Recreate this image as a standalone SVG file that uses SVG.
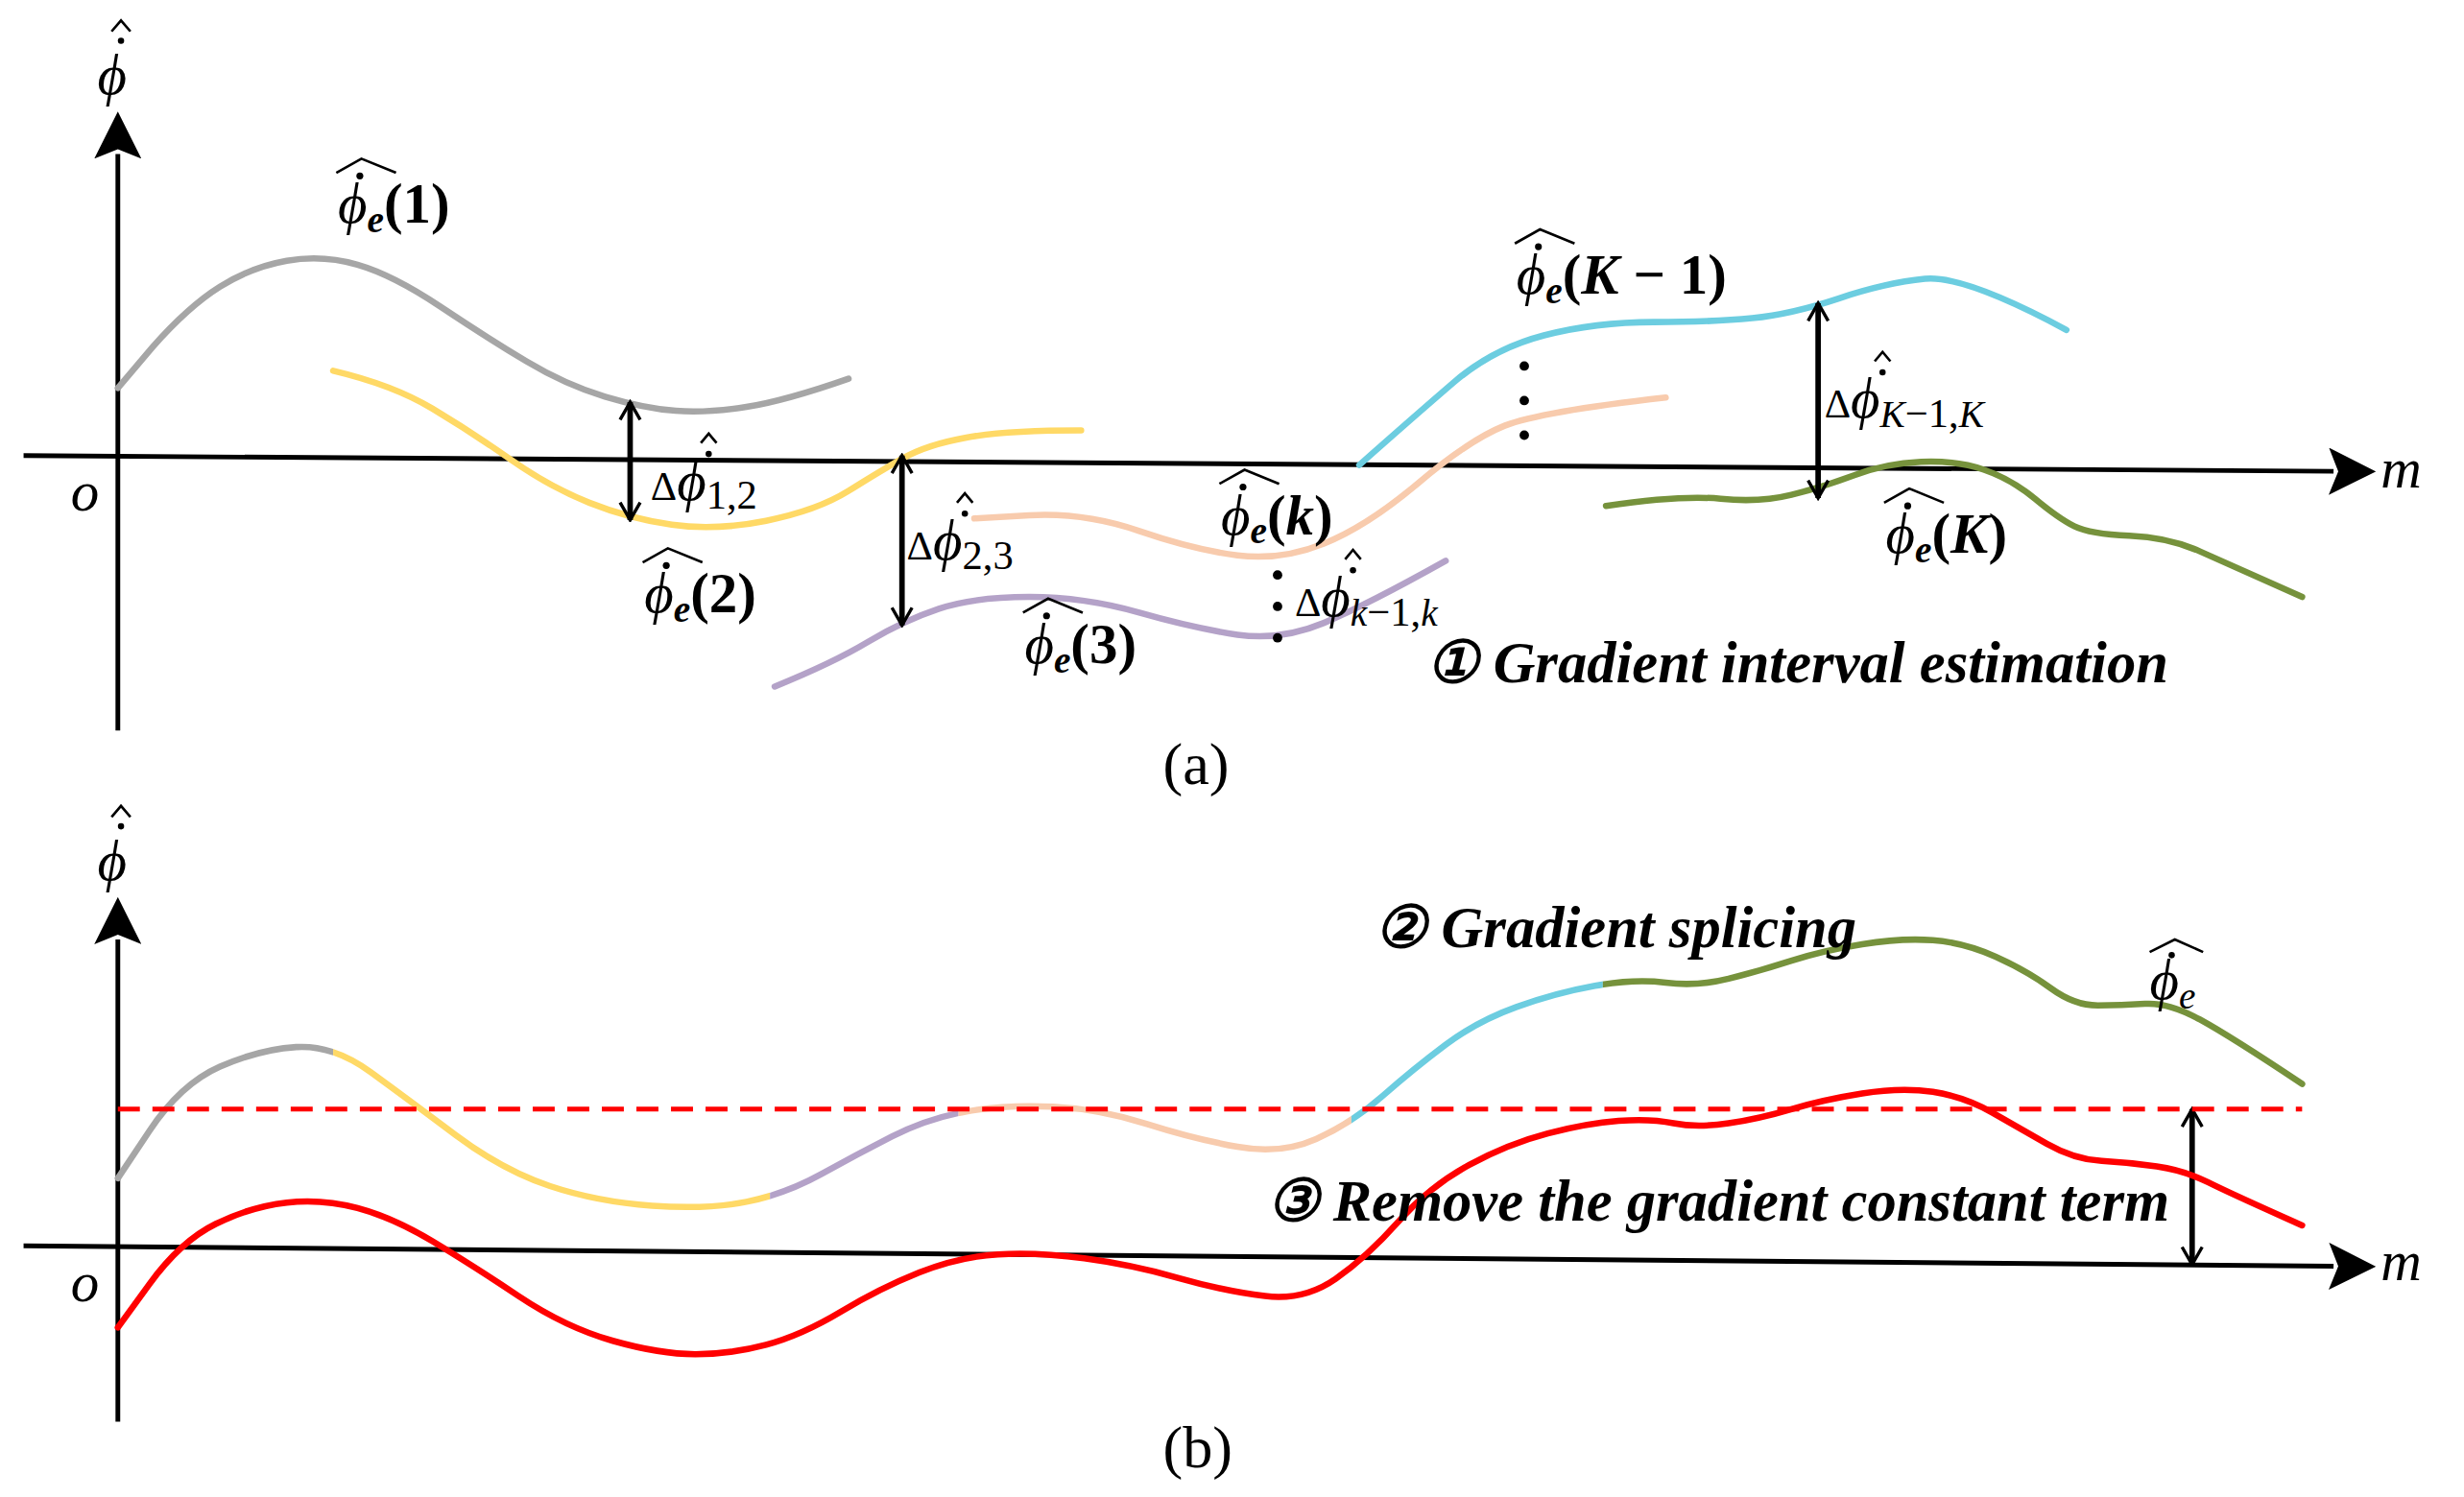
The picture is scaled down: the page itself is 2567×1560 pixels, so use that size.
<svg xmlns="http://www.w3.org/2000/svg" width="2567" height="1560" viewBox="0 0 2567 1560">
<style>
.ax{stroke:#000;stroke-width:3;fill:none}
.c{fill:none;stroke-width:4;stroke-linecap:round;stroke-linejoin:round}
.da{stroke:#000;stroke-width:3.5;fill:none;marker-start:url(#v);marker-end:url(#v)}
.m{font-family:"Liberation Serif","DejaVu Serif",serif;font-style:italic;font-size:36px;fill:#000}
.b{font-family:"Liberation Serif","DejaVu Serif",serif;font-weight:bold;font-style:normal;font-size:36px}
.bi{font-weight:bold}
.s{font-size:24px}
.n{font-family:"Liberation Serif","DejaVu Serif",serif;font-size:26px;font-style:normal}
.cap{font-family:"Liberation Serif",serif;font-size:38px;fill:#000}
.st{font-family:"Liberation Serif",serif;font-style:italic;font-weight:bold;font-size:37px;fill:#000}
.hat{fill:none;stroke:#000;stroke-width:1.6}
</style>
<defs>
<marker id="v" viewBox="0 0 20 20" refX="18" refY="10" markerWidth="16" markerHeight="16" orient="auto-start-reverse" markerUnits="userSpaceOnUse">
<polyline points="4,2 18,10 4,18" fill="none" stroke="#000" stroke-width="2.6"/>
</marker>
<marker id="t" viewBox="0 0 20 20" refX="2" refY="10" markerWidth="10" markerHeight="10" orient="auto" markerUnits="strokeWidth">
<polygon points="0,0 20,10 0,20 4,10" fill="#000"/>
</marker>
<path id="spl" d="M75,750 L95,720 Q115,690 140,679 Q165,668 188.5,666.5 Q212,665 236,682.5 Q260,700 290,722.5 Q320,745 350,755 Q380,765 415,767.5 Q450,770 475,765 Q500,760 522.5,747.5 Q545,735 567.5,723.5 Q590,712 615,707.5 Q640,703 670,704.5 Q700,706 730,715.5 Q760,725 787.5,730 Q815,735 837.5,725 Q860,715 880,697.5 Q900,680 920,665 Q940,650 965,641 Q990,632 1015,627.5 Q1040,623 1060,625.5 Q1080,628 1100,623 Q1120,618 1140,611.5 Q1160,605 1185,601 Q1210,597 1230,598.5 Q1250,600 1270,609 Q1290,618 1305,629 Q1320,640 1335,640 Q1350,640 1365,639 Q1380,638 1400,649 Q1420,660 1465,690"/>
<clipPath id="k1"><rect x="0" y="0" width="212" height="1000"/></clipPath>
<clipPath id="k2"><rect x="212" y="0" width="278" height="1000"/></clipPath>
<clipPath id="k3"><rect x="490" y="0" width="120" height="1000"/></clipPath>
<clipPath id="k4"><rect x="610" y="0" width="250" height="1000"/></clipPath>
<clipPath id="k5"><rect x="860" y="0" width="160" height="1000"/></clipPath>
<clipPath id="k6"><rect x="1020" y="0" width="600" height="1000"/></clipPath>
</defs>
<rect width="2567" height="1560" fill="#fff"/>
<g transform="scale(1.6371)">
<g id="axes">
<line class="ax" x1="75" y1="465" x2="75" y2="98" marker-end="url(#t)"/>
<line class="ax" x1="15" y1="290" x2="1485" y2="300" marker-end="url(#t)"/>
<line class="ax" x1="75" y1="905" x2="75" y2="598" marker-end="url(#t)"/>
<line class="ax" x1="15" y1="793" x2="1485" y2="806" marker-end="url(#t)"/>
<text class="m" x="62" y="60" font-size="38">ϕ</text><circle cx="77" cy="26" r="2"/><path class="hat" d="M71,20 L77,13 L83,20"/>
<text class="m" x="62" y="560" font-size="38">ϕ</text><circle cx="77" cy="526" r="2"/><path class="hat" d="M71,520 L77,513 L83,520"/>
<text class="m" x="1515" y="310" font-size="38">m</text>
<text class="m" x="1515" y="815" font-size="38">m</text>
<text class="m" x="45" y="325" font-size="32">o</text>
<text class="m" x="45" y="828" font-size="32">o</text>
</g>
<g id="curves-a">
<path class="c" stroke="#a6a6a6" d="M75,247 L97,221 Q120,195 140,182.5 Q160,170 182.5,166 Q205,162 227.5,168.5 Q250,175 280,195 Q310,215 335,230 Q360,245 385,252.5 Q410,260 430,261.5 Q450,263 475,259 Q500,255 540,241"/>
<path class="c" stroke="#ffd966" d="M212,236 Q250,245 275,260 Q300,275 325,292.5 Q350,310 375,320 Q400,330 427.5,334 Q455,338 487.5,331.5 Q520,325 540,312.5 Q560,300 575,291.5 Q590,283 615,278.5 Q640,274 688,274"/>
<path class="c" stroke="#f8cbad" d="M620,330 L655,328 Q690,326 725,338 Q760,350 787.5,353.5 Q815,357 842.5,346 Q870,335 902.5,307.5 Q935,280 957.5,271 Q980,262 1060,253"/>
<path class="c" stroke="#b4a2c8" d="M493,437 Q530,422 552.5,408.5 Q575,395 597.5,387.5 Q620,380 655,380 Q690,380 725,390 Q760,400 787.5,404 Q815,408 842.5,396.5 Q870,385 920,357"/>
<path class="c" stroke="#6ccde0" d="M865,296 Q900,265 925,243.5 Q950,222 982.5,213.5 Q1015,205 1052.5,205 Q1090,205 1115,202.5 Q1140,200 1170,190 Q1200,180 1225,177.5 Q1250,175 1315,210"/>
<path class="c" stroke="#76923c" d="M1022,322 Q1070,315 1095,317.5 Q1120,320 1140,315 Q1160,310 1180,302.5 Q1200,295 1222.5,294 Q1245,293 1262.5,299 Q1280,305 1295,317.5 Q1310,330 1320,335 Q1330,340 1355,341 Q1380,342 1400,351 Q1420,360 1465,380"/>
</g>
<g id="connectors">
<line class="da" x1="401" y1="256" x2="401" y2="331"/>
<line class="da" x1="574" y1="290" x2="574" y2="398"/>
<line class="da" x1="1157" y1="193" x2="1157" y2="317"/>
<line class="da" x1="1395" y1="706" x2="1395" y2="805"/>
</g>
<g id="dots" fill="#000">
<circle cx="813" cy="366" r="3"/><circle cx="813" cy="386" r="3"/><circle cx="813" cy="406" r="3"/>
<circle cx="970" cy="233" r="3"/><circle cx="970" cy="255" r="3"/><circle cx="970" cy="277" r="3"/>
</g>
<g id="labels-a">
<text class="m" x="215" y="142">ϕ<tspan class="s bi" dy="6">e</tspan><tspan class="b" dy="-6">(1)</tspan></text>
<circle cx="229" cy="112" r="2.2"/><path class="hat" d="M214,110 L230,101 L252,110"/>
<text class="m" x="410" y="390">ϕ<tspan class="s bi" dy="6">e</tspan><tspan class="b" dy="-6">(2)</tspan></text>
<circle cx="424" cy="360" r="2.2"/><path class="hat" d="M409,358 L425,349 L447,358"/>
<text class="m" x="652" y="422">ϕ<tspan class="s bi" dy="6">e</tspan><tspan class="b" dy="-6">(3)</tspan></text>
<circle cx="666" cy="392" r="2.2"/><path class="hat" d="M651,390 L667,381 L689,390"/>
<text class="m" x="777" y="340">ϕ<tspan class="s bi" dy="6">e</tspan><tspan class="b" dy="-6">(</tspan><tspan class="bi">k</tspan><tspan class="b">)</tspan></text>
<circle cx="791" cy="310" r="2.2"/><path class="hat" d="M776,308 L792,299 L814,308"/>
<text class="m" x="965" y="187">ϕ<tspan class="s bi" dy="6">e</tspan><tspan class="b" dy="-6">(</tspan><tspan class="bi">K</tspan><tspan class="b"> − 1)</tspan></text>
<circle cx="979" cy="157" r="2.2"/><path class="hat" d="M964,155 L980,146 L1002,155"/>
<text class="m" x="1200" y="352">ϕ<tspan class="s bi" dy="6">e</tspan><tspan class="b" dy="-6">(</tspan><tspan class="bi">K</tspan><tspan class="b">)</tspan></text>
<circle cx="1214" cy="322" r="2.2"/><path class="hat" d="M1199,320 L1215,311 L1237,320"/>
<text class="m" x="414" y="318" font-size="34"><tspan class="n" font-size="32">Δ</tspan>ϕ<tspan class="n" dy="6">1,2</tspan></text>
<circle cx="451" cy="289" r="2"/><path class="hat" d="M446,282 L451,276 L456,282"/>
<text class="m" x="577" y="356" font-size="34"><tspan class="n" font-size="32">Δ</tspan>ϕ<tspan class="n" dy="6">2,3</tspan></text>
<circle cx="614" cy="327" r="2"/><path class="hat" d="M609,320 L614,314 L619,320"/>
<text class="m" x="824" y="392" font-size="34"><tspan class="n" font-size="32">Δ</tspan>ϕ<tspan class="s" dy="6">k</tspan><tspan class="n">−1,</tspan><tspan class="s">k</tspan></text>
<circle cx="861" cy="363" r="2"/><path class="hat" d="M856,356 L861,350 L866,356"/>
<text class="m" x="1161" y="266" font-size="34"><tspan class="n" font-size="32">Δ</tspan>ϕ<tspan class="s" dy="6">K</tspan><tspan class="n">−1,</tspan><tspan class="s">K</tspan></text>
<circle cx="1198" cy="237" r="2"/><path class="hat" d="M1193,230 L1198,224 L1203,230"/>
<text class="st" x="908" y="434">① Gradient interval estimation</text>
<text class="cap" x="740" y="499">(a)</text>
</g>
<g id="curves-b">
<use href="#spl" class="c" stroke="#a6a6a6" clip-path="url(#k1)"/>
<use href="#spl" class="c" stroke="#ffd966" clip-path="url(#k2)"/>
<use href="#spl" class="c" stroke="#b4a2c8" clip-path="url(#k3)"/>
<use href="#spl" class="c" stroke="#f8cbad" clip-path="url(#k4)"/>
<use href="#spl" class="c" stroke="#6ccde0" clip-path="url(#k5)"/>
<use href="#spl" class="c" stroke="#76923c" clip-path="url(#k6)"/>
<line x1="75" y1="706" x2="1465" y2="706" stroke="#ff0000" stroke-width="3" stroke-dasharray="14,8"/>
<path class="c" stroke="#ff0000" d="M75,845 L95,817.5 Q115,790 137.5,779 Q160,768 182.5,765.5 Q205,763 227.5,769 Q250,775 275,790 Q300,805 330,825 Q360,845 390,853.5 Q420,862 442.5,862 Q465,862 487.5,856 Q510,850 535,835 Q560,820 585,810 Q610,800 635,798.5 Q660,797 690,801 Q720,805 750,813.5 Q780,822 805,825 Q830,828 850,814 Q870,800 890,777.5 Q910,755 935,741.5 Q960,728 985,721.5 Q1010,715 1030,713.5 Q1050,712 1065,715 Q1080,718 1100,715 Q1120,712 1140,706 Q1160,700 1185,696 Q1210,692 1230,695 Q1250,698 1267.5,708 Q1285,718 1302.5,728 Q1320,738 1337.5,739 Q1355,740 1372.5,742.5 Q1390,745 1405,752.5 Q1420,760 1465,780"/>
</g>
<g id="labels-b">
<text class="st" x="875" y="603">② Gradient splicing</text>
<text class="st" x="806" y="777">③ Remove the gradient constant term</text>
<text class="m" x="1368" y="636" font-size="34">ϕ<tspan class="s" dy="6">e</tspan></text>
<circle cx="1382" cy="608" r="2"/><path class="hat" d="M1368,606 L1384,598 L1402,606"/>
<text class="cap" x="740" y="934">(b)</text>
</g>
</g>
</svg>
